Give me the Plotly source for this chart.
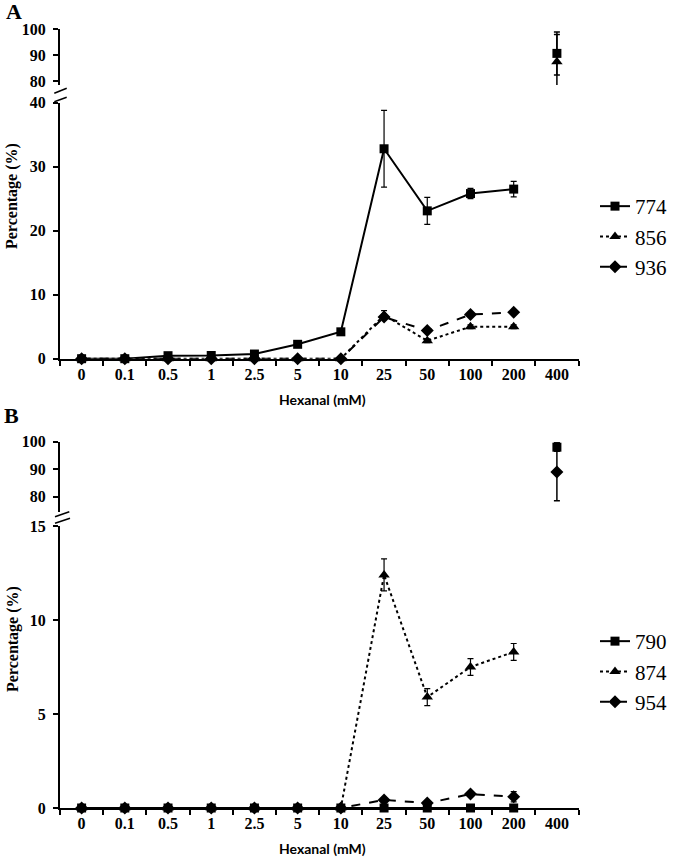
import plotly.graph_objects as go

categories = ["0", "0.1", "0.5", "1", "2.5", "5", "10", "25", "50", "100", "200", "400"]

# Panel A (None = not drawn)
a_774 = [0, 0, 0.47, 0.5, 0.73, 2.25, 4.2, 32.8, 23.1, 25.8, 26.5, 90.7]
a_774_err = [0, 0, 0, 0, 0, 0, 0, 6.0, 2.1, 0.8, 1.2, 8.3]
a_856 = [0, 0, 0, 0, 0, 0, 0, 6.8, 2.8, 5.0, 5.0, 87.5]
a_856_err = [0, 0, 0, 0, 0, 0, 0, 0.7, 0.3, 0.3, 0.3, 10.5]
a_936 = [0, 0, 0, 0, 0, 0, 0, 6.5, 4.4, 6.9, 7.25, None]
a_936_err = [0, 0, 0, 0, 0, 0, 0, 0.3, 0.3, 0.3, 0.3, 0]
a_names = ["774", "856", "936"]

# Panel B
b_790 = [0, 0, 0, 0, 0, 0, 0, 0, 0, 0, 0, 98.0]
b_790_err = [0, 0, 0, 0, 0, 0, 0, 0, 0, 0, 0, 1.5]
b_874 = [0, 0, 0, 0, 0, 0, 0, 12.4, 5.9, 7.5, 8.3, None]
b_874_err = [0, 0, 0, 0, 0, 0, 0, 0.85, 0.45, 0.45, 0.45, 0]
b_954 = [0, 0, 0, 0, 0, 0, 0, 0.43, 0.26, 0.74, 0.6, 89.0]
b_954_err = [0, 0, 0, 0, 0, 0, 0, 0.05, 0.05, 0.1, 0.27, 10.5]
b_names = ["790", "874", "954"]

W, H = 674, 859
def py(p):
    return 1 - p / H
def px(p):
    return p / W

styles = [
    dict(symbol="square", size=9, dash="solid"),
    dict(symbol="triangle-up", size=10, dash="dot"),
    dict(symbol="diamond", size=10, dash="dash"),
]

fig = go.Figure()

def add_series(vals, errs, name, st, xa_low, ya_low, xa_up, ya_up, legend):
    lo_x = categories[:11]
    lo_y = vals[:11]
    lo_e = errs[:11]
    fig.add_trace(go.Scatter(
        x=lo_x, y=lo_y, name=name, mode="lines+markers",
        line=dict(color="black", width=2, dash=st["dash"]),
        marker=dict(symbol=st["symbol"], size=st["size"], color="black"),
        error_y=dict(type="data", array=lo_e, visible=True, color="black", thickness=1.2, width=3),
        xaxis=xa_low, yaxis=ya_low, cliponaxis=False, legend=legend,
    ))
    if vals[11] is not None:
        fig.add_trace(go.Scatter(
            x=[categories[11]], y=[vals[11]], mode="markers", showlegend=False,
            marker=dict(symbol=st["symbol"], size=st["size"], color="black"),
            error_y=dict(type="data", array=[errs[11]], visible=True, color="black", thickness=1.5, width=3),
            xaxis=xa_up, yaxis=ya_up, cliponaxis=False,
        ))

a_vals = [(a_774, a_774_err), (a_856, a_856_err), (a_936, a_936_err)]
b_vals = [(b_790, b_790_err), (b_874, b_874_err), (b_954, b_954_err)]
for (v, e), n, st in zip(a_vals, a_names, styles):
    add_series(v, e, n, st, "x", "y", "x2", "y2", "legend")
for (v, e), n, st in zip(b_vals, b_names, styles):
    add_series(v, e, n, st, "x3", "y3", "x4", "y4", "legend2")

SERIF = "Liberation Serif"
serif = dict(family=SERIF, size=16, color="black", weight="bold")
xdom = [px(60), px(578.5)]

xcommon = dict(type="category", categoryorder="array", categoryarray=categories,
               range=[-0.5, 11.5], domain=xdom, fixedrange=True)
xlow = dict(xcommon, showline=True, linecolor="black", linewidth=2, ticks="outside",
            tickson="boundaries", ticklen=5, tickwidth=2, tickcolor="black",
            tickfont=serif, showgrid=False, zeroline=False)
xup = dict(xcommon, showline=False, showticklabels=False, ticks="", showgrid=False, zeroline=False)
ycommon = dict(showline=True, linecolor="black", linewidth=2, ticks="outside", ticklen=5,
               tickwidth=2, tickcolor="black", tickfont=serif, showgrid=False, zeroline=False,
               fixedrange=True, ticklabelstandoff=4)

legfont = dict(family=SERIF, size=21, color="black")
fig.update_layout(
    width=W, height=H, margin=dict(l=0, r=0, t=0, b=0, autoexpand=False),
    plot_bgcolor="white", paper_bgcolor="white",
    font=dict(family=SERIF, size=16, color="black"),
    xaxis=dict(xlow, anchor="y"),
    yaxis=dict(ycommon, range=[0, 40], tickvals=[0, 10, 20, 30, 40], domain=[py(358.7), py(102.7)], anchor="x"),
    xaxis2=dict(xup, anchor="y2"),
    yaxis2=dict(ycommon, range=[78.5, 100], tickvals=[80, 90, 100], domain=[py(85), py(29.3)], anchor="x2"),
    xaxis3=dict(xlow, anchor="y3"),
    yaxis3=dict(ycommon, range=[0, 15], tickvals=[0, 5, 10, 15], domain=[py(808), py(526)], anchor="x3"),
    xaxis4=dict(xup, anchor="y4"),
    yaxis4=dict(ycommon, range=[74.5, 100], tickvals=[80, 90, 100], domain=[py(511.8), py(441.7)], anchor="x4"),
    legend=dict(x=px(595), y=py(186), xanchor="left", yanchor="top", bgcolor="rgba(0,0,0,0)",
                font=legfont, itemwidth=30, tracegroupgap=0),
    legend2=dict(x=px(595), y=py(621), xanchor="left", yanchor="top", bgcolor="rgba(0,0,0,0)",
                 font=legfont, itemwidth=30, tracegroupgap=0),
)

sans = dict(family="Lato", size=14, color="black", weight="bold")
ann = [
    dict(text="A", x=px(14), y=py(11), font=dict(family=SERIF, size=22, color="black", weight="bold")),
    dict(text="B", x=px(11), y=py(415), font=dict(family=SERIF, size=22, color="black", weight="bold")),
    dict(text="Hexanal (mM)", x=px(322), y=py(399), font=sans),
    dict(text="Hexanal (mM)", x=px(322), y=py(848), font=sans),
    dict(text="Percentage (%)", x=px(12), y=py(196), textangle=-90,
         font=dict(family=SERIF, size=16, color="black", weight="bold")),
    dict(text="Percentage (%)", x=px(13), y=py(639), textangle=-90,
         font=dict(family=SERIF, size=16, color="black", weight="bold")),
]
for a in ann:
    fig.add_annotation(xref="paper", yref="paper", showarrow=False, xanchor="center", yanchor="middle", **a)

# axis break marks
breaks = [((54.3, 93.3), (66.7, 88.3)), ((54.3, 101.7), (66.7, 97.3)),
          ((55, 516.7), (69.3, 511.7)), ((55, 523.3), (70, 518.3))]
for (x0, y0), (x1, y1) in breaks:
    fig.add_shape(type="line", xref="paper", yref="paper", x0=px(x0), y0=py(y0), x1=px(x1), y1=py(y1),
                  line=dict(color="black", width=1.5))

fig.write_html("out.html", config={"displayModeBar": False},
               post_script="document.body.style.margin='0';document.body.style.overflow='hidden';")
